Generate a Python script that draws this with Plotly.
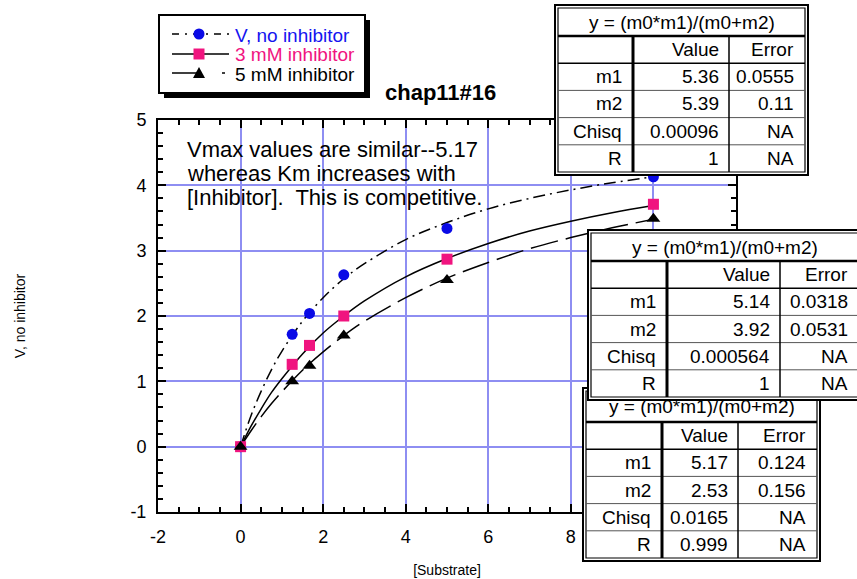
import plotly.graph_objects as go

# ---------------- data ----------------
substrate = [0, 1.25, 1.67, 2.5, 5, 10]
v_none = [0, 1.72, 2.04, 2.63, 3.34, 4.13]
v_3mM = [0, 1.26, 1.55, 2.00, 2.87, 3.71]
v_5mM = [0, 1.00, 1.24, 1.70, 2.55, 3.49]

fit_x = [0, 0.25, 0.5, 0.75, 1, 1.5, 2, 2.5, 3, 4, 5, 6, 7, 8, 9, 10]
fit_none = [0, 0.47, 0.85, 1.18, 1.46, 1.92, 2.28, 2.57, 2.80, 3.17, 3.43, 3.64, 3.80, 3.93, 4.04, 4.13]
fit_3mM = [0, 0.31, 0.58, 0.83, 1.04, 1.42, 1.74, 2.00, 2.23, 2.60, 2.88, 3.11, 3.30, 3.45, 3.58, 3.69]
fit_5mM = [0, 0.24, 0.46, 0.66, 0.84, 1.17, 1.45, 1.70, 1.92, 2.28, 2.58, 2.82, 3.03, 3.20, 3.35, 3.48]

series_names = ["V, no inhibitor", "3 mM inhibitor", "5 mM inhibitor"]
series_text_colors = ["#1414f0", "#f0147f", "#000000"]
marker_colors = ["#0a0ae6", "#f0147f", "#000000"]
marker_symbols = ["circle", "square", "triangle-up"]
curve_dashes = ["12px,5px,2px,5px", "solid", "28px,8px"]
legend_dashes = ["7px,6px,2px,6px", "solid", "28px,22px,3px,20px"]

x_tickvals = [-2, 0, 2, 4, 6, 8, 10, 12]
x_ticktext = ["-2", "0", "2", "4", "6", "8", "", ""]   # 10 and 12 sit under the fit table
y_tickvals = [-1, 0, 1, 2, 3, 4, 5]
y_ticktext = ["-1", "0", "1", "2", "3", "4", "5"]

chart_title = "chap11#16"
x_title = "[Substrate]"
y_title = "V, no inhibitor"
note_lines = ["Vmax values are similar--5.17",
              "whereas Km increases with",
              "[Inhibitor].  This is competitive."]

table_title = "y = (m0*m1)/(m0+m2)"
table_cols = ["Value", "Error"]
table_rows = ["m1", "m2", "Chisq", "R"]
tab_5mM_value = ["5.36", "5.39", "0.00096", "1"]
tab_5mM_error = ["0.0555", "0.11", "NA", "NA"]
tab_3mM_value = ["5.14", "3.92", "0.000564", "1"]
tab_3mM_error = ["0.0318", "0.0531", "NA", "NA"]
tab_none_value = ["5.17", "2.53", "0.0165", "0.999"]
tab_none_error = ["0.124", "0.156", "NA", "NA"]

# ---------------- layout geometry ----------------
W, H = 857, 579
L, R, T, B = 158, 121, 120, 67
PW = W - L - R
PH = H - T - B
FONT = "Liberation Sans, Arial, sans-serif"


def px(x):
    return (x - L) / PW


def py(y):
    return (H - B - y) / PH


fig = go.Figure()

curves = [fit_none, fit_3mM, fit_5mM]
points = [v_none, v_3mM, v_5mM]
for i in range(3):
    fig.add_trace(go.Scatter(x=fit_x, y=curves[i], mode="lines", line_shape="spline",
                             line=dict(color="black", width=1.5, dash=curve_dashes[i]),
                             showlegend=False, hoverinfo="skip"))
for i in range(3):
    fig.add_trace(go.Scatter(x=substrate, y=points[i], mode="markers", name=series_names[i],
                             marker=dict(symbol=marker_symbols[i], color=marker_colors[i],
                                         size=12 if i == 2 else 11, line=dict(width=0)),
                             showlegend=False))

shapes = []
annotations = []


def rect(x0, y0, x1, y1, lw=2, fill=None, color="black"):
    shapes.append(dict(type="rect", xref="paper", yref="paper",
                       x0=px(x0), x1=px(x1), y0=py(y0), y1=py(y1),
                       line=dict(color=color, width=lw),
                       fillcolor=fill if fill else "rgba(0,0,0,0)", layer="above"))


def hline(x0, x1, y, lw=1, color="black", dash="solid"):
    shapes.append(dict(type="line", xref="paper", yref="paper",
                       x0=px(x0), x1=px(x1), y0=py(y), y1=py(y),
                       line=dict(color=color, width=lw, dash=dash), layer="above"))


def vline(x, y0, y1, lw=1, color="black"):
    shapes.append(dict(type="line", xref="paper", yref="paper",
                       x0=px(x), x1=px(x), y0=py(y0), y1=py(y1),
                       line=dict(color=color, width=lw), layer="above"))


def text(x, y, s, anchor="left", size=19, color="black", bold=False):
    if bold:
        s = "<b>" + s + "</b>"
    annotations.append(dict(xref="paper", yref="paper", x=px(x), y=py(y), text=s,
                            showarrow=False, xanchor=anchor, yanchor="middle",
                            font=dict(family=FONT, size=size, color=color)))


def table(left, right, top, bottom, header_h, c1, c2, values, errors):
    rect(left, top, right, bottom, lw=2, fill="white")
    il, ir, it, ib = left + 3, right - 3, top + 3, bottom - 3
    rect(il, it, ir, ib, lw=1.2)
    hb = it + header_h
    hline(il, ir, hb, lw=2.5)
    rh = (ib - hb) / 5
    for k in range(1, 5):
        hline(il, ir, hb + k * rh, lw=1.5 if k == 1 else 1,
              color="black" if k == 1 else "#555555")
    vline(c1, hb, ib, lw=3)
    vline(c2, hb, ib, lw=1.5)
    text((il + ir) / 2, (it + hb) / 2, table_title, anchor="center")
    text(c2 - 8, hb + rh / 2, table_cols[0], anchor="right")
    text(ir - 9, hb + rh / 2, table_cols[1], anchor="right")
    for k in range(4):
        yc = hb + (k + 1.5) * rh
        text(c1 - 9, yc, table_rows[k], anchor="right")
        text(c2 - 8, yc, values[k], anchor="right")
        text(ir - 9, yc, errors[k], anchor="right")


# note text in plot
for k, s in enumerate(note_lines):
    text(185, 149 + 24 * k, s, size=22)

# title
text(383, 92, chart_title, size=22, bold=True)

# legend (drawn as layout decorations)
rect(164, 20, 370, 98, lw=0, fill="black")
rect(159, 15, 365, 93, lw=2, fill="white")
row_y = [34, 54, 73]
for i in range(3):
    hline(172, 229, row_y[i], lw=1.5, dash=legend_dashes[i])
    text(233, row_y[i] + 1, series_names[i], size=19, color=series_text_colors[i])
cx = 199
shapes.append(dict(type="circle", xref="paper", yref="paper",
                   x0=px(cx - 5.5), x1=px(cx + 5.5), y0=py(row_y[0] - 5.5), y1=py(row_y[0] + 5.5),
                   fillcolor=marker_colors[0], line=dict(width=0), layer="above"))
shapes.append(dict(type="rect", xref="paper", yref="paper",
                   x0=px(cx - 5.5), x1=px(cx + 5.5), y0=py(row_y[1] - 5.5), y1=py(row_y[1] + 5.5),
                   fillcolor=marker_colors[1], line=dict(width=0), layer="above"))
ty = row_y[2]
tri = "M {} {} L {} {} L {} {} Z".format(px(cx - 6), py(ty + 5), px(cx + 6), py(ty + 5), px(cx), py(ty - 6))
shapes.append(dict(type="path", xref="paper", yref="paper", path=tri,
                   fillcolor="black", line=dict(width=0), layer="above"))

# tables: bottom (no inhibitor), middle (3 mM), top (5 mM)
table(583, 820, 388, 561, 31, 662, 738, tab_none_value, tab_none_error)
table(588, 862, 230, 400, 28, 667, 780, tab_3mM_value, tab_3mM_error)
table(555, 808, 5, 175, 28, 633, 729, tab_5mM_value, tab_5mM_error)

axis_common = dict(showline=True, linewidth=2, linecolor="black", mirror="ticks",
                   ticks="inside", ticklen=8, tickwidth=2, tickcolor="black",
                   showgrid=True, gridcolor="#8e8ef2", gridwidth=1.5, zeroline=False,
                   tickmode="array",
                   tickfont=dict(family=FONT, size=18, color="black"))

fig.update_layout(
    width=W, height=H,
    margin=dict(l=L, r=R, t=T, b=B, autoexpand=False),
    paper_bgcolor="white", plot_bgcolor="white",
    showlegend=False,
    xaxis=dict(range=[-2, 12], tickvals=x_tickvals, ticktext=x_ticktext,
               ticklabelstandoff=7,
               minor=dict(dtick=0.5, tick0=0, ticks="inside", ticklen=5, tickwidth=1.5,
                          tickcolor="black", showgrid=False),
               title=dict(text=x_title, font=dict(family=FONT, size=14, color="black"), standoff=20),
               **axis_common),
    yaxis=dict(range=[-1, 5], tickvals=y_tickvals, ticktext=y_ticktext,
               ticklabelstandoff=6,
               minor=dict(dtick=0.2, tick0=0, ticks="inside", ticklen=5, tickwidth=1.5,
                          tickcolor="black", showgrid=False),
               title=dict(text=y_title, font=dict(family=FONT, size=14, color="black"), standoff=101),
               **axis_common),
    shapes=shapes,
    annotations=annotations,
)

fig.write_html("out.html")
